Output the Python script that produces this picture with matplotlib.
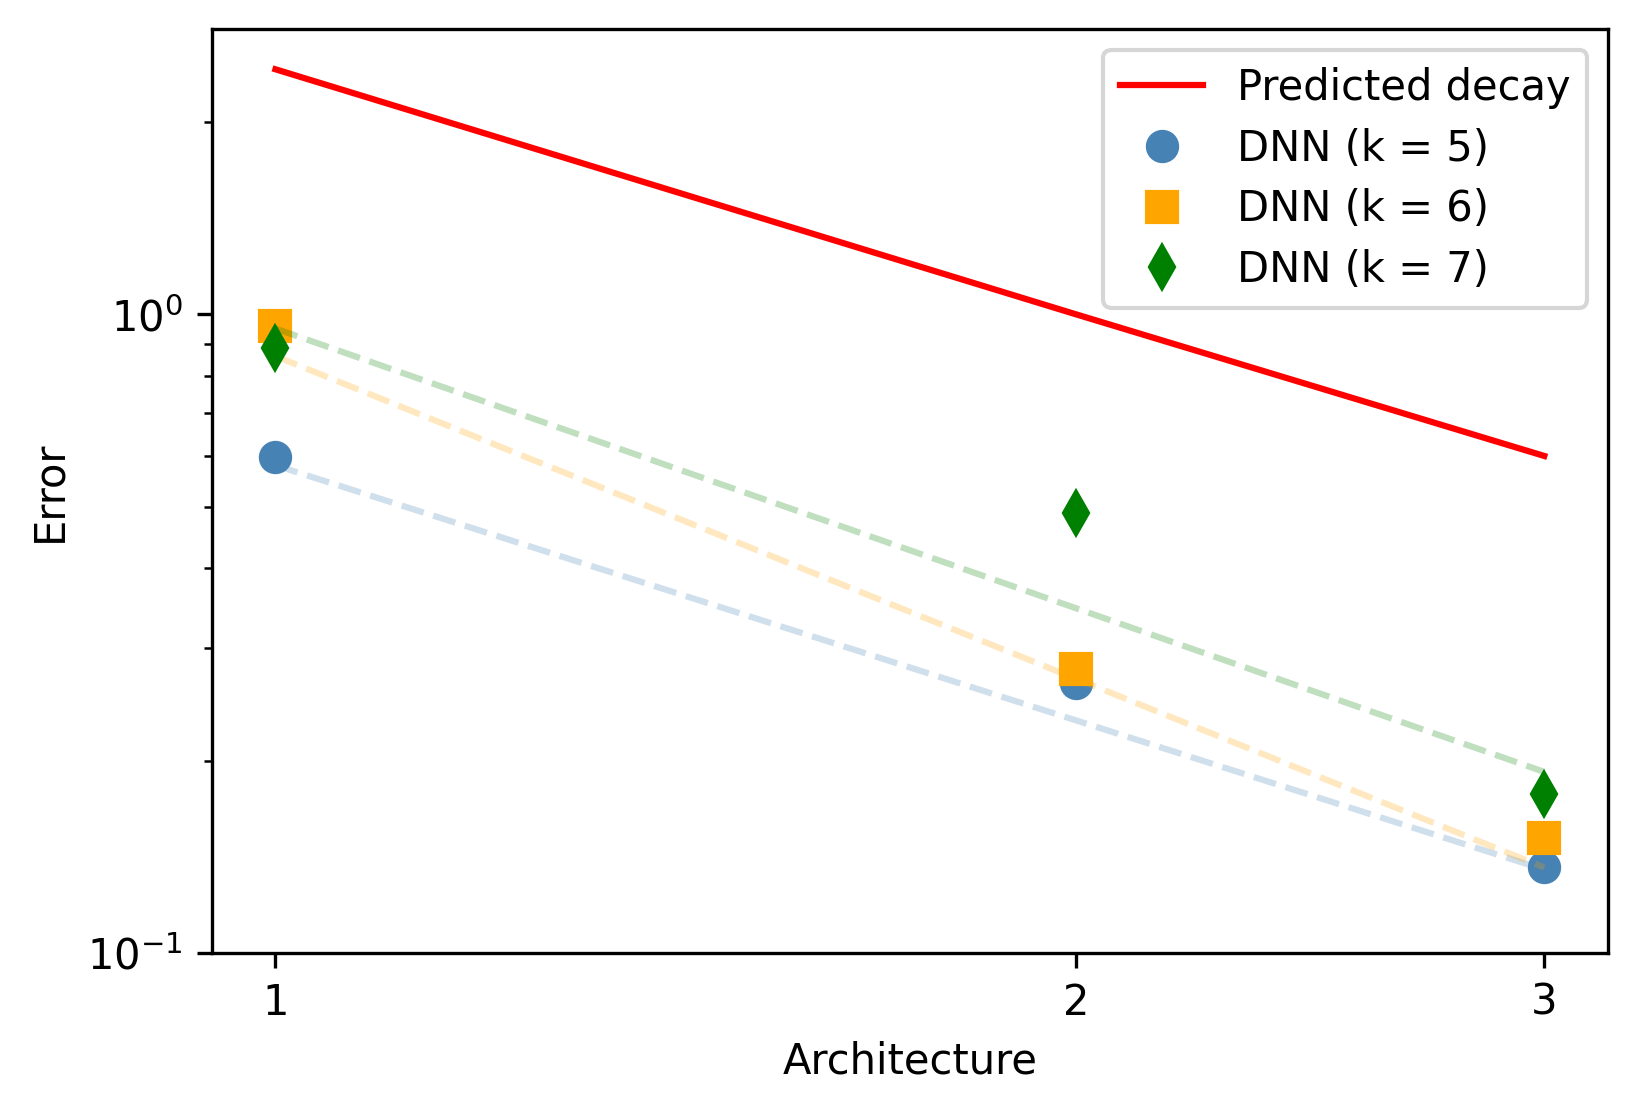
import matplotlib
matplotlib.use("Agg")
import matplotlib.pyplot as plt

arch = [1, 2, 3]
predicted = [2.42, 1.0, 0.60]

labels = ["DNN (k = 5)", "DNN (k = 6)", "DNN (k = 7)"]
err_k5 = [0.597, 0.265, 0.136]
err_k6 = [0.96, 0.278, 0.151]
err_k7 = [0.887, 0.489, 0.177]

fit_x = [1, 3]
fit_k5 = [0.58, 0.135]
fit_k6 = [0.86, 0.136]
fit_k7 = [0.95, 0.192]

colors = ["steelblue", "orange", "green"]
markers = ["o", "s", "d"]

DPI = 300
fig = plt.figure(figsize=(1636 / DPI, 1109 / DPI), dpi=DPI)
ax = fig.add_axes([0.1296, 0.1409, 0.9827 - 0.1296, 0.9736 - 0.1409])

ax.plot(arch, predicted, color="red", lw=1.5, label="Predicted decay")
for err, fit, c, m, lab in zip([err_k5, err_k6, err_k7], [fit_k5, fit_k6, fit_k7],
                               colors, markers, labels):
    ax.plot(arch, err, linestyle="none", marker=m, markersize=7, color=c, label=lab)
    ax.plot(fit_x, fit, linestyle="--", color=c, alpha=0.25, lw=1.5)

ax.set_xscale("log")
ax.set_yscale("log")
ax.set_ylim(bottom=0.1)
ax.set_xticks(arch)
ax.set_xticklabels([str(a) for a in arch])
ax.xaxis.set_minor_locator(matplotlib.ticker.NullLocator())
ax.set_xlabel("Architecture")
ax.set_ylabel("Error")
ax.legend(loc="upper right", labelspacing=0.45)

fig.savefig("out.png", dpi=DPI)
